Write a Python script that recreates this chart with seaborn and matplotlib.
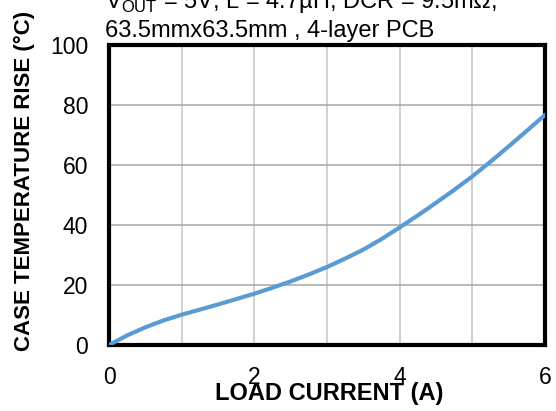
import matplotlib
matplotlib.use("Agg")
import matplotlib.pyplot as plt
import seaborn as sns
import pandas as pd

# ── data ──
load_current = [0, 0.25, 0.5, 0.75, 1, 1.25, 1.5, 1.75, 2, 2.25, 2.5, 2.75, 3,
                3.25, 3.5, 3.75, 4, 4.25, 4.5, 4.75, 5, 5.25, 5.5, 5.75, 6]
temp_rise = [0, 3.2, 5.9, 8.2, 10.1, 11.8, 13.5, 15.3, 17.1, 19.1, 21.2, 23.5, 26.0,
             28.8, 31.8, 35.3, 39.2, 43.2, 47.4, 51.7, 56.2, 61.1, 66.2, 71.4, 76.7]
x_ticks = [0, 2, 4, 6]
y_ticks = [0, 20, 40, 60, 80, 100]

sns.set_style("white")
plt.rcParams["font.family"] = ["Liberation Sans", "DejaVu Sans"]
plt.rcParams["text.color"] = "black"
plt.rcParams["axes.labelcolor"] = "black"
plt.rcParams["xtick.color"] = "black"
plt.rcParams["ytick.color"] = "black"

df = pd.DataFrame({"current": load_current, "rise": temp_rise})

fig = plt.figure(figsize=(5.56, 4.11), dpi=100)
ax = fig.add_axes([109 / 556, 1 - 345 / 411, (545 - 109) / 556, (345 - 45) / 411])

# grid: every 1 A vertically, every 20 degC horizontally
for xv in range(1, 6):
    ax.axvline(xv, color="#c4c4c4", lw=1.1, zorder=0)
for yv in y_ticks[1:-1]:
    ax.axhline(yv, color="#a6a6a6", lw=1.1, zorder=0)

sns.lineplot(data=df, x="current", y="rise", ax=ax, color="#5b9bd5", lw=3, zorder=3)

ax.set_xlim(0, 6)
ax.set_ylim(0, 100)
ax.set_xticks(x_ticks)
ax.set_yticks(y_ticks)
ax.tick_params(length=0, labelsize=16.5)
ax.tick_params(axis="x", pad=15)
ax.tick_params(axis="y", pad=15)
for s in ax.spines.values():
    s.set_visible(True)
    s.set_color("black")
    s.set_linewidth(3)

ax.set_xlabel("LOAD CURRENT (A)", fontsize=17, fontweight="bold")
ax.set_ylabel("CASE TEMPERATURE RISE (°C)", fontsize=16, fontweight="bold")
ax.xaxis.set_label_coords(0.505, -0.122)
ax.yaxis.set_label_coords(-0.170, 0.547)

fig.text(105 / 556, 1 - 8 / 411, "V$_{\\mathregular{OUT}}$ = 5V, L = 4.7µH, DCR = 9.5mΩ,",
         fontsize=17, va="baseline", ha="left")
fig.text(105 / 556, 1 - 37 / 411, "63.5mmx63.5mm , 4-layer PCB",
         fontsize=17, va="baseline", ha="left")

fig.savefig("out.png", dpi=100)
